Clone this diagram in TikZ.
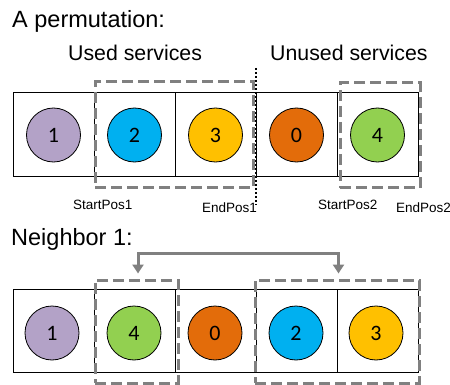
\documentclass[tikz,border=0pt]{standalone}
\usepackage{fontspec}
\setmainfont{Liberation Sans}
\newfontfamily\digitfont{Carlito}
\usetikzlibrary{arrows.meta}

\definecolor{cPurple}{RGB}{179,162,199}
\definecolor{cBlue}{RGB}{0,176,240}
\definecolor{cYellow}{RGB}{255,192,0}
\definecolor{cOrange}{RGB}{227,108,10}
\definecolor{cGreen}{RGB}{146,208,80}
\definecolor{groupgray}{RGB}{128,128,128}

\begin{document}
\begin{tikzpicture}[x=1pt,y=-1pt,
  cell/.style={draw=black, line width=1pt, minimum width=81pt, inner sep=0pt},
  ball/.style={circle, draw=black, line width=0.8pt, minimum size=54pt, inner sep=0pt,
    font=\digitfont\fontsize{22}{22}\selectfont},
  group/.style={draw=groupgray, line width=3pt, dash pattern=on 11pt off 5pt,
    rectangle, inner sep=0pt},
  title/.style={anchor=base west, inner sep=0pt, font=\fontsize{23.5}{24}\selectfont},
  heading/.style={anchor=base west, inner sep=0pt, font=\fontsize{21.3}{22}\selectfont},
  poslabel/.style={anchor=base west, inner sep=0pt, font=\fontsize{13.5}{14}\selectfont},
  swaparrow/.style={draw=groupgray, line width=3pt,
    {Triangle[width=11pt,length=9pt]}-{Triangle[width=11pt,length=9pt]}}
]
\useasboundingbox (0,0) rectangle (450,385);
\fill[white] (0,0) rectangle (450,385);

% ---------- the permutation ----------
\node[title] (t1) at (12,28) {A permutation:};
\node[heading] (used) at (68,61) {Used services};
\node[heading] (unused) at (270,61) {Unused services};

\foreach \i/\x in {1/53.5,2/134.5,3/215.5,4/296.5,5/377.5}
  \node[cell, minimum height=84pt] (p\i) at (\x,135) {};

\node[ball, fill=cPurple] (a1) at (p1.center) {1};
\node[ball, fill=cBlue]   (a2) at (p2.center) {2};
\node[ball, fill=cYellow] (a3) at (p3.center) {3};
\node[ball, fill=cOrange] (a4) at (p4.center) {0};
\node[ball, fill=cGreen]  (a5) at (p5.center) {4};

\node[group, minimum width=158pt, minimum height=106pt] (g1) at (174,135) {};
\node[group, minimum width=80pt, minimum height=105pt] (g2) at (380,135.5) {};

% split between used and unused services
\coordinate (splittop) at (256,68);
\coordinate (splitbot) at (256,205);
\draw[line width=2pt, dash pattern=on 2pt off 2pt] (splittop) -- (splitbot);

\node[poslabel] (s1) at (73,210) {StartPos1};
\node[poslabel] (e1) at (202,212) {EndPos1};
\node[poslabel] (s2) at (318,210) {StartPos2};
\node[poslabel] (e2) at (396,212) {EndPos2};

% ---------- the neighbour ----------
\node[title] (t2) at (11,245) {Neighbor 1:};

\foreach \i/\x in {1/53.5,2/134.5,3/215.5,4/296.5,5/377.5}
  \node[cell, minimum height=83pt] (n\i) at (\x,330.5) {};

\node[ball, fill=cPurple] (b1) at (52,333) {1};
\node[ball, fill=cGreen]  (b2) at (134,333) {4};
\node[ball, fill=cOrange] (b3) at (215,333) {0};
\node[ball, fill=cBlue]   (b4) at (296,333) {2};
\node[ball, fill=cYellow] (b5) at (376,333) {3};

\node[group, minimum width=83pt, minimum height=103pt] (h1) at (136.5,331.5) {};
\node[group, minimum width=164pt, minimum height=103pt] (h2) at (337,331.5) {};

% the two segments trade places
\draw[swaparrow] ([xshift=1.5pt,yshift=5pt]h1.north) -- ++(0,-20)
  -| ([xshift=1.5pt,yshift=5pt]h2.north);
\end{tikzpicture}
\end{document}
